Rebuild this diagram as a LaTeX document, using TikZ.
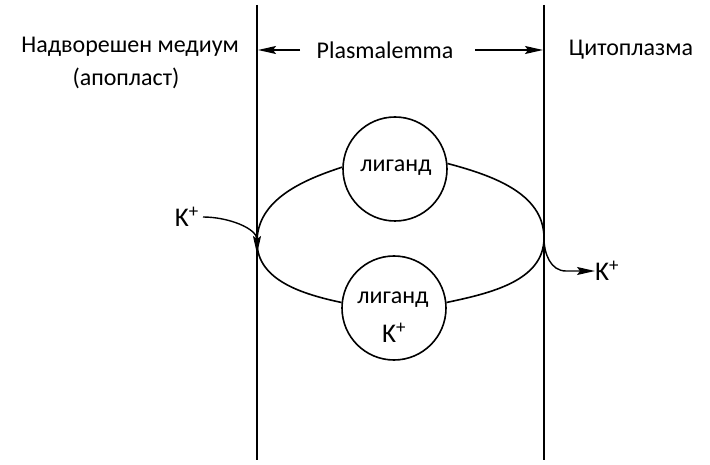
\documentclass[tikz,border=0pt]{standalone}
\usepackage{fontspec}
\setmainfont{Carlito}
\usetikzlibrary{arrows.meta}
\begin{document}
\begin{tikzpicture}[x=1pt,y=1pt,
  membrane/.style={line width=1.2pt},
  loopline/.style={line width=1.6pt},
  carrier/.style={circle,draw,line width=1.6pt,minimum size=104pt,inner sep=0pt},
  lbl/.style={font=\fontsize{24}{28}\selectfont,inner sep=0pt},
  ion/.style={font=\fontsize{27}{30}\selectfont,inner sep=0pt},
  headarrow/.style={line width=1.4pt,-{Stealth[length=18pt,width=8pt,inset=3pt]}}]
\useasboundingbox (0,0) rectangle (710,464);
% membrane lines
\coordinate (lt) at (257,459);
\coordinate (lb) at (257,4);
\coordinate (rt) at (544,459);
\coordinate (rb) at (544,4);
\draw[membrane] (lt) -- (lb);
\draw[membrane] (rt) -- (rb);
% titles
\node[lbl] (out1) at (130,417) {Надворешен медиум};
\node[lbl] (out2) at (126,386) {(апопласт)};
\node[lbl] (plm) at (385,414) {Plasmalemma};
\node[lbl] (cyto) at (631,414) {Цитоплазма};
\coordinate (la) at (258,414);
\coordinate (ra) at (543,414);
\coordinate (lat) at (300,414);
\coordinate (rat) at (475,414);
\draw[headarrow] (lat) -- (la);
\draw[headarrow] (rat) -- (ra);
% carriers
\node[carrier] (tc) at (395,295) {};
\node[lbl] (tct) at (396,296) {лиганд};
\node[carrier] (bc) at (394,156) {};
\node[lbl] (bct) at (393,164) {лиганд};
\node[ion] (bck) at (394,131) {K\textsuperscript{+}};
% loop
\coordinate (L) at (257,222);
\coordinate (R) at (544,226);
\draw[loopline] (L) to[out=90,in=198,looseness=0.95] (tc.178);
\draw[loopline] (tc.6) to[out=-15,in=90,looseness=0.95] (R);
\draw[loopline] (L) to[out=-90,in=168,looseness=0.95] (bc.174);
\draw[loopline] (bc.6) to[out=12,in=-90,looseness=0.95] (R);
% ions
\node[ion,anchor=east] (kin) at (199,247) {K\textsuperscript{+}};
\coordinate (kinend) at (257,210);
\draw[headarrow] (kin.east) ++(4,0) to[out=0,in=90] (kinend);
\node[ion,anchor=west] (kout) at (595,193) {K\textsuperscript{+}};
\coordinate (kbend) at (566,193);
\draw[headarrow] (R) to[out=-90,in=180] (kbend) -- (kout.west);
\end{tikzpicture}
\end{document}
